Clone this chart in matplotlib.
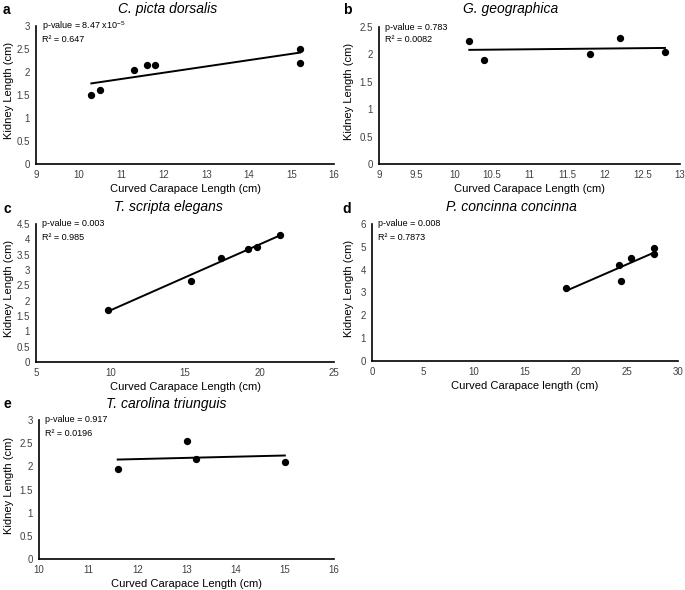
import matplotlib
matplotlib.use("Agg")
from matplotlib import pyplot as plt
from matplotlib import transforms
import numpy as np

plt.rcParams["font.family"] = ["Liberation Sans", "DejaVu Sans"]
plt.rcParams["mathtext.fontset"] = "custom"
plt.rcParams["mathtext.rm"] = "Liberation Sans"

# panel data
a_x = [10.3, 10.5, 11.3, 11.6, 11.8, 15.2, 15.2]
a_y = [1.5, 1.6, 2.05, 2.15, 2.15, 2.5, 2.2]

b_x = [10.2, 10.4, 11.8, 12.2, 12.8]
b_y = [2.25, 1.9, 2.0, 2.3, 2.05]

c_x = [9.8, 15.4, 17.4, 19.2, 19.8, 21.4]
c_y = [1.7, 2.65, 3.4, 3.7, 3.75, 4.15]

d_x = [19.0, 24.2, 24.4, 25.4, 27.6, 27.6]
d_y = [3.2, 4.2, 3.5, 4.5, 4.95, 4.7]

e_x = [11.6, 13.0, 13.2, 15.0]
e_y = [1.95, 2.55, 2.15, 2.1]

titles = ["C. picta dorsalis", "G. geographica", "T. scripta elegans",
          "P. concinna concinna", "T. carolina triunguis"]
letters = ["a", "b", "c", "d", "e"]
pvals = [r"p-value = 8.47 x10$^{-5}$", "p-value = 0.783", "p-value = 0.003",
         "p-value = 0.008", "p-value = 0.917"]
r2s = ["R² = 0.647", "R² = 0.0082", "R² = 0.985", "R² = 0.7873", "R² = 0.0196"]
xlabels = ["Curved Carapace Length (cm)"] * 3 + ["Curved Carapace length (cm)",
                                                 "Curved Carapace Length (cm)"]
xlims = [(9, 16), (9, 13), (5, 25), (0, 30), (10, 16)]
xsteps = [1, 0.5, 5, 5, 1]
ylims = [(0, 3), (0, 2.5), (0, 4.5), (0, 6), (0, 3)]
ysteps = [0.5, 0.5, 0.5, 1, 0.5]

W, H = 685, 590
# axes boxes in pixels: left, top, right, bottom
boxes = [
    (36, 26, 334, 164),
    (379, 27, 680, 164),
    (36, 224, 334, 362),
    (372, 224, 678, 361),
    (39, 420, 334, 559),
]
letter_pos = [(6, 10), (347, 10), (7, 209), (347, 209), (7, 404)]
title_pos = [(168, 9), (511, 9), (168, 207), (511, 207), (166, 404)]
ylabel_x = [14, 354, 14, 354, 14]

data = [(a_x, a_y), (b_x, b_y), (c_x, c_y), (d_x, d_y), (e_x, e_y)]

fig = plt.figure(figsize=(W / 100, H / 100), dpi=100)

for i, (xs, ys) in enumerate(data):
    l, t, r, bt = boxes[i]
    ax = fig.add_axes([l / W, 1 - bt / H, (r - l) / W, (bt - t) / H])
    xs = np.array(xs)
    ys = np.array(ys)

    # linear trendline
    m, b = np.polyfit(xs, ys, 1)
    xl = np.array([xs.min(), xs.max()])
    ax.plot(xl, m * xl + b, color="black", lw=1.4, zorder=2)
    ax.scatter(xs, ys, s=18, color="black", zorder=3)

    ax.set_xlim(*xlims[i])
    ax.set_ylim(*ylims[i])
    ax.set_xticks(np.arange(xlims[i][0], xlims[i][1] + 1e-9, xsteps[i]))
    ax.set_yticks(np.arange(ylims[i][0], ylims[i][1] + 1e-9, ysteps[i]))
    ax.xaxis.set_major_formatter(plt.FuncFormatter(lambda v, p: f"{v:g}"))
    ax.yaxis.set_major_formatter(plt.FuncFormatter(lambda v, p: f"{v:g}"))
    ax.tick_params(length=0, labelsize=7, colors="#404040")
    ax.tick_params(axis="x", pad=4.5)
    ax.tick_params(axis="y", pad=4.5)

    for s in ["top", "right"]:
        ax.spines[s].set_visible(False)
    for s in ["left", "bottom"]:
        ax.spines[s].set_linewidth(1.2)

    ax.set_xlabel(xlabels[i], fontsize=8, labelpad=3)
    ax.set_ylabel("Kidney Length (cm)", fontsize=8)
    ax.yaxis.set_label_coords(ylabel_x[i] / W, 0.53,
                              transform=transforms.blended_transform_factory(
                                  fig.transFigure, ax.transAxes))

    ax.text(6 / (r - l), 1.0, pvals[i], transform=ax.transAxes, fontsize=6.5,
            va="center", ha="left")
    ax.text(6 / (r - l), 1 - 13 / (bt - t), r2s[i], transform=ax.transAxes,
            fontsize=6.5, va="center", ha="left")

    # title, centred on the chart area
    fig.text(title_pos[i][0] / W, 1 - title_pos[i][1] / H, titles[i],
             fontsize=10, style="italic", va="center", ha="center")

    # panel letter
    fig.text(letter_pos[i][0] / W, 1 - letter_pos[i][1] / H, letters[i],
             fontsize=10, fontweight="bold", va="center", ha="center")

fig.savefig("out.png", dpi=100)
